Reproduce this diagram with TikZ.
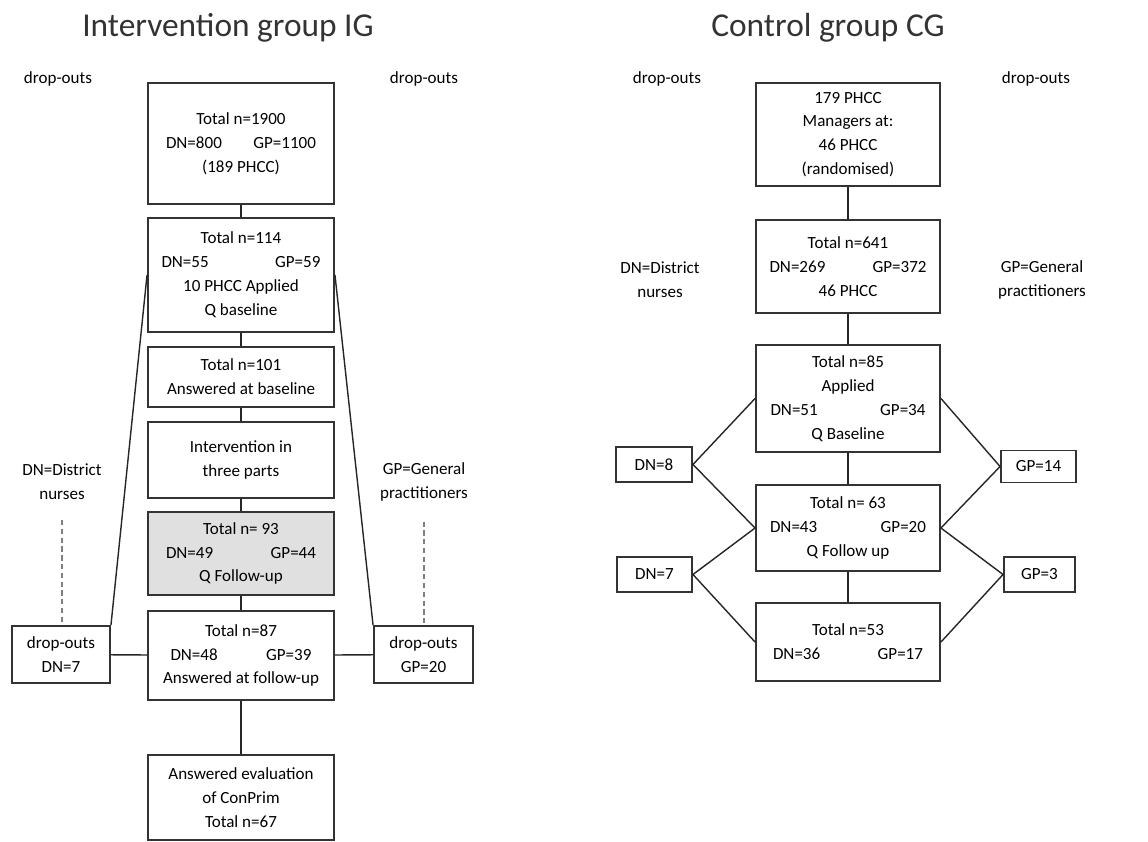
\documentclass[tikz,border=0pt]{standalone}
\usepackage{fontspec}
\setmainfont{Carlito}
\newcommand{\dngp}[3]{\makebox[\dimexpr 0.02cm*#1\relax]{#2\hfill #3}}
\begin{document}
\begin{tikzpicture}[y=-0.02cm, x=0.02cm,
    font=\fontsize{9.7}{13.6}\selectfont,
    box/.style 2 args={draw=black!80, line width=1.1pt, align=center, inner sep=0pt,
      minimum width=#1*0.02cm, minimum height=#2*0.02cm},
    title/.style={font=\fontsize{19}{23}\selectfont, text=black!80},
    link/.style={line width=0.8pt, black!85},
    hint/.style={gray, line width=0.8pt, dash pattern=on 3pt off 2pt}]
    \useasboundingbox (0,0) rectangle (1148,841);
    % titles and side labels
    \node[title] (tig) at (228,28) {Intervention group IG};
    \node[title] (tcg) at (828,28) {Control group CG};
    \node (lig1) at (58,79) {drop-outs};
    \node (lig2) at (424,79) {drop-outs};
    \node (lcg1) at (667,79) {drop-outs};
    \node (lcg2) at (1036,79) {drop-outs};
    \node[align=center] (ndig) at (62,482) {DN=District\\nurses};
    \node[align=center] (gpig) at (424,482) {GP=General\\practitioners};
    \node[align=center] (ndcg) at (660,280) {DN=District\\nurses};
    \node[align=center] (gpcg) at (1042,280) {GP=General\\practitioners};
    % intervention group
    \node[box={186}{121}] (b1) at (241,143.5) {Total n=1900\\\dngp{150}{DN=800}{GP=1100}\\(189 PHCC)};
    \node[box={186}{114}] (b2) at (241,275) {Total n=114\\\dngp{159}{DN=55}{GP=59}\\10 PHCC Applied\\Q baseline};
    \node[box={186}{60}] (b3) at (241,377) {Total n=101\\Answered at baseline};
    \node[box={186}{76}] (b4) at (241,460) {Intervention in\\three parts};
    \node[box={186}{83}, fill=black!12] (b5) at (241,553.5) {Total n= 93\\\dngp{150}{DN=49}{GP=44}\\Q Follow-up};
    \node[box={186}{89}] (b6) at (241,655.5) {Total n=87\\\dngp{141}{DN=48}{GP=39}\\Answered at follow-up};
    \node[box={186}{85}] (b7) at (241,797.5) {Answered evaluation\\of ConPrim\\Total n=67};
    \node[box={98}{57}] (dl) at (61,654.5) {drop-outs\\DN=7};
    \node[box={99}{57}] (dr) at (423.5,654.5) {drop-outs\\GP=20};
    \foreach \a/\b in {b1/b2,b2/b3,b3/b4,b4/b5,b5/b6,b6/b7} {
      \draw[link] (\a) -- (\b);
    }
    \draw[link] (b2.west) -- (dl.north east);
    \draw[link] (b2.east) -- (dr.north west);
    \draw[link] (dl) -- (b6);
    \draw[link] (dr) -- (b6);
    \draw[hint, shorten <=8pt] (ndig.south) -- (ndig.south |- dl.north);
    \draw[hint, shorten <=8pt] (gpig.south) -- (gpig.south |- dr.north);
    % control group
    \node[box={184}{103}] (c1) at (848,134.5) {179 PHCC\\Managers at:\\46 PHCC\\(randomised)};
    \node[box={184}{93}] (c2) at (848,266.5) {Total n=641\\\dngp{157}{DN=269}{GP=372}\\46 PHCC};
    \node[box={184}{107}] (c3) at (848,398.5) {Total n=85\\Applied\\\dngp{155}{DN=51}{GP=34}\\Q Baseline};
    \node[box={184}{86}] (c4) at (848,528) {Total n= 63\\\dngp{156}{DN=43}{GP=20}\\Q Follow up};
    \node[box={184}{78}] (c5) at (848,642) {Total n=53\\\dngp{150}{DN=36}{GP=17}};
    \node[box={76}{35}] (dn8) at (654,464.5) {DN=8};
    \node[box={75}{35}] (dn7) at (654.5,574.5) {DN=7};
    \node[box={75}{32}] (gp14) at (1038.5,466.5) {GP=14};
    \node[box={71}{35}] (gp3) at (1039.5,574.5) {GP=3};
    \foreach \a/\b in {c1/c2,c2/c3,c3/c4,c4/c5} {
      \draw[link] (\a) -- (\b);
    }
    \draw[link] (c3.west) -- (dn8.east) -- (c4.west) -- (dn7.east) -- (c5.west);
    \draw[link] (c3.east) -- (gp14.west) -- (c4.east) -- (gp3.west) -- (c5.east);
\end{tikzpicture}
\end{document}
